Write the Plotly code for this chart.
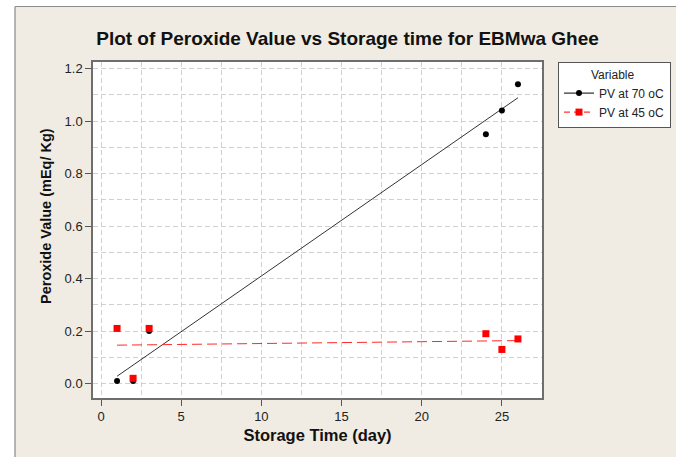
import numpy as np
import plotly.graph_objects as go

# ---- data ----
days = [1, 2, 3, 24, 25, 26]
pv_70 = [0.01, 0.01, 0.20, 0.95, 1.04, 1.14]
pv_45 = [0.21, 0.02, 0.21, 0.19, 0.13, 0.17]
x_ticks = [0, 5, 10, 15, 20, 25]
y_ticks = [0.0, 0.2, 0.4, 0.6, 0.8, 1.0, 1.2]
series_names = ["PV at 70 oC", "PV at 45 oC"]

FONT = "Arial, Liberation Sans, sans-serif"
BEIGE = "#F0ECE3"

def fit(x, y):
    k, b = np.polyfit(x, y, 1)
    xs = [min(x), max(x)]
    return xs, [k * v + b for v in xs]

fig = go.Figure()

fx, fy = fit(days, pv_70)
fig.add_trace(go.Scatter(x=fx, y=fy, mode="lines", line=dict(color="#333333", width=1),
                         showlegend=False, hoverinfo="skip"))
fx2, fy2 = fit(days, pv_45)
fig.add_trace(go.Scatter(x=fx2, y=fy2, mode="lines",
                         line=dict(color="#ff2a2a", width=1, dash="10px,5px"),
                         showlegend=False, hoverinfo="skip"))

fig.add_trace(go.Scatter(x=days, y=pv_70, mode="markers",
                         marker=dict(color="black", size=6, symbol="circle"),
                         showlegend=False))
fig.add_trace(go.Scatter(x=days, y=pv_45, mode="markers",
                         marker=dict(color="#ff0000", size=7, symbol="square"),
                         showlegend=False))

# legend entries
fig.add_trace(go.Scatter(x=[None], y=[None], mode="lines+markers", name=series_names[0],
                         line=dict(color="black", width=1),
                         marker=dict(color="black", size=6, symbol="circle")))
fig.add_trace(go.Scatter(x=[None], y=[None], mode="lines+markers", name=series_names[1],
                         line=dict(color="#ff0000", width=1, dash="6px,4px"),
                         marker=dict(color="#ff0000", size=7, symbol="square")))

L, R, T, B = 93, 542, 62, 398
W, H = 676, 457
def px(x):
    return (x - L) / (R - L)
def py(y):
    return (B - y) / (B - T)

shapes = [
    dict(type="rect", xref="paper", yref="paper", x0=px(0), x1=px(15), y0=py(H), y1=py(0),
         fillcolor="white", line=dict(width=0), layer="below"),
    dict(type="rect", xref="paper", yref="paper", x0=px(0), x1=px(W), y0=py(6.5), y1=py(0),
         fillcolor="white", line=dict(width=0), layer="below"),
    dict(type="line", xref="paper", yref="paper", x0=px(15), x1=px(15), y0=py(6.5), y1=py(H),
         line=dict(color="#8a8a8a", width=1.2)),
    dict(type="line", xref="paper", yref="paper", x0=px(15), x1=px(W), y0=py(6.5), y1=py(6.5),
         line=dict(color="#8a8a8a", width=1.2)),
]

grid = dict(showgrid=True, gridcolor="#d0d0d0", gridwidth=1, griddash="5px,3px")

fig.update_layout(
    width=W, height=H,
    margin=dict(l=L, r=W - R, t=T, b=H - B, autoexpand=False),
    paper_bgcolor=BEIGE, plot_bgcolor="white",
    font=dict(family=FONT, color="#222222", size=13),
    title=dict(text="<b>Plot of Peroxide Value vs Storage time for EBMwa Ghee</b>",
               x=347.5 / W, xref="container", xanchor="center",
               y=1 - 38 / H, yref="container", yanchor="middle",
               font=dict(size=19, color="#111111")),
    xaxis=dict(range=[-0.5, 27.5], tickvals=x_ticks, ticks="outside", ticklen=6,
               tickcolor="#555555", showline=True, linecolor="#6e6e6e", linewidth=1.5,
               mirror=True, zeroline=False,
               minor=dict(dtick=2.5, tick0=0, **grid),
               title=dict(text="<b>Storage Time (day)</b>", font=dict(size=16.5, color="#111111"),
                          standoff=6),
               **grid),
    yaxis=dict(range=[-0.055, 1.225], tickvals=y_ticks, tickformat=".1f", ticks="outside",
               ticklen=6, tickcolor="#555555", showline=True, linecolor="#6e6e6e",
               linewidth=1.5, mirror=True, zeroline=False,
               minor=dict(dtick=0.1, tick0=0, **grid),
               **grid),
    legend=dict(x=px(558), y=py(62), xanchor="left", yanchor="top",
                bgcolor="white", bordercolor="#555555", borderwidth=1,
                font=dict(size=12, color="#222222"),
                title=dict(text="\u00a0" * 9 + "Variable", font=dict(size=12), side="top"),
                tracegroupgap=0, itemwidth=30, entrywidth=90, entrywidthmode="pixels"),
    shapes=shapes,
    annotations=[dict(text="<b>Peroxide Value (mEq/ Kg)</b>", textangle=-90,
                      xref="paper", yref="paper", x=px(46), y=py(216),
                      xanchor="center", yanchor="middle", showarrow=False,
                      font=dict(size=14.5, color="#111111"))],
)

fig.write_html("out.html", config={"displayModeBar": False},
               post_script="document.body.style.margin='0';document.body.style.padding='0';"
                           "document.body.style.overflow='hidden';")
